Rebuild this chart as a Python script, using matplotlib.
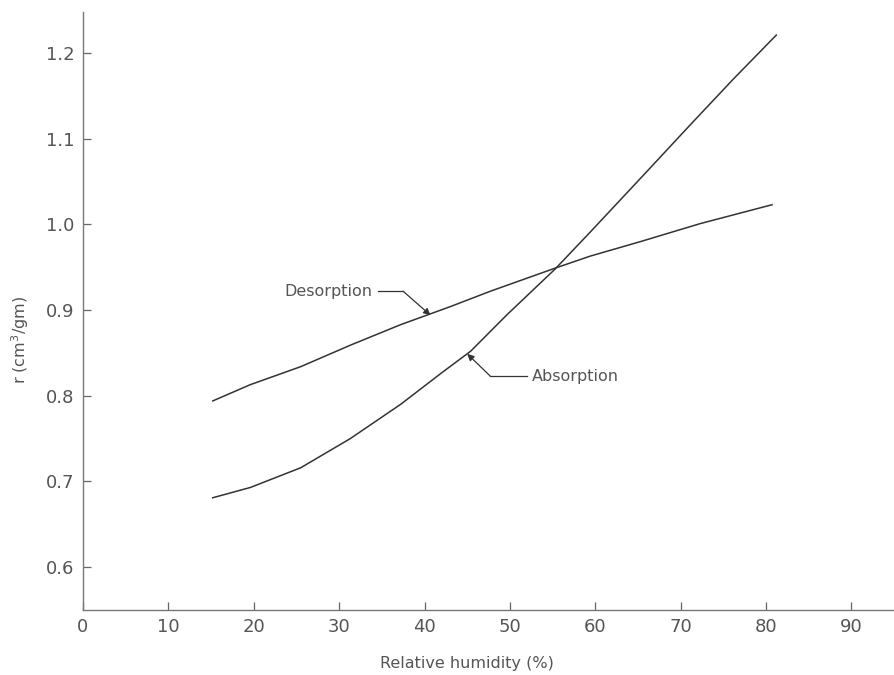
import matplotlib
matplotlib.use("Agg")
import numpy as np
import matplotlib.pyplot as plt

# values: relative humidity (%) vs r (cm3/gm)
desorption_rh = [15.2, 19.6, 25.5, 31.3, 37.2, 43.0, 47.7, 55.3, 59.4, 65.3, 72.3, 80.7]
desorption_r = [0.794, 0.813, 0.834, 0.859, 0.883, 0.904, 0.922, 0.949, 0.963, 0.980, 1.001, 1.023]

absorption_rh = [15.2, 19.6, 25.5, 31.3, 37.2, 41.9, 45.4, 49.7, 55.3, 59.4, 65.5, 71.1, 76.2, 81.2]
absorption_r = [0.681, 0.693, 0.716, 0.750, 0.790, 0.826, 0.852, 0.895, 0.948, 0.991, 1.056, 1.116, 1.170, 1.221]

x_ticks = [0, 10, 20, 30, 40, 50, 60, 70, 80, 90]
y_ticks = [0.6, 0.7, 0.8, 0.9, 1.0, 1.1, 1.2]

line_col = '#333333'
text_col = '#555555'

fig = plt.figure(figsize=(8.95, 6.75), dpi=100)
ax = fig.add_axes([0.0927, 0.0963, 0.9073, 0.886])

ax.plot(desorption_rh, desorption_r, color=line_col, lw=1.1)
ax.plot(absorption_rh, absorption_r, color=line_col, lw=1.1)

# leader lines with arrows
ax.plot([34.6, 37.5], [0.922, 0.922], color=line_col, lw=0.9)
ax.annotate('', xy=(40.7, 0.894), xytext=(37.5, 0.922),
            arrowprops=dict(arrowstyle='-|>', color=line_col, lw=0.9,
                            mutation_scale=10, shrinkA=0, shrinkB=0))
ax.text(33.9, 0.922, 'Desorption', ha='right', va='center',
        fontsize=11.5, color=text_col)

ax.plot([47.7, 52.0], [0.823, 0.823], color=line_col, lw=0.9)
ax.annotate('', xy=(45.0, 0.849), xytext=(47.7, 0.823),
            arrowprops=dict(arrowstyle='-|>', color=line_col, lw=0.9,
                            mutation_scale=10, shrinkA=0, shrinkB=0))
ax.text(52.6, 0.823, 'Absorption', ha='left', va='center',
        fontsize=11.5, color=text_col)

ax.set_xlim(0, 95.1)
ax.set_ylim(0.55, 1.248)
ax.set_xticks(x_ticks)
ax.set_yticks(y_ticks)
ax.set_yticklabels([f'{v:.1f}' for v in y_ticks])

for side in ['top', 'right']:
    ax.spines[side].set_visible(False)
for side in ['left', 'bottom']:
    ax.spines[side].set_color('#777777')
    ax.spines[side].set_linewidth(1.0)

ax.tick_params(direction='in', length=6, width=0.9, color='#666666',
               labelsize=13, labelcolor=text_col, pad=6)

ax.set_xlabel('Relative humidity (%)', fontsize=11.5, color=text_col)
ax.set_ylabel('r (cm$^3$/gm)', fontsize=11.5, color=text_col)
ax.xaxis.set_label_coords(0.473, -0.077)
ax.yaxis.set_label_coords(-0.064, 0.452)

fig.savefig('out.png', dpi=100)
